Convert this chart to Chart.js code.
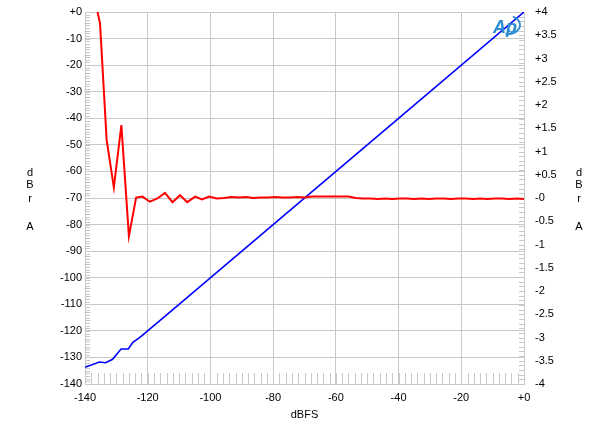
<!DOCTYPE html>
<html>
<head>
<meta charset="utf-8">
<script src="https://cdn.jsdelivr.net/npm/chart.js@4/dist/chart.umd.min.js"></script>
<style>
  html, body { margin: 0; padding: 0; background: #fff; }
  #wrap { width: 600px; height: 431px; }
</style>
</head>
<body>
<div id="wrap"><canvas id="linearityChart"></canvas></div>
<script>
// Data
// Red trace: deviation from ideal (dBr A, right axis) vs input level (dBFS)
const redX = [-137.6, -135.2, -133.1, -130.8, -128.4, -126.0, -123.7, -121.7, -119.3, -116.9,
  -114.5, -112.1, -109.7, -107.4, -104.9, -102.7, -100.4, -98.0, -95.7, -93.3,
  -91.0, -88.6, -86.3, -84.0, -81.6, -79.3, -77.0, -74.6, -72.3, -70.0,
  -67.6, -65.3, -63.0, -60.6, -58.3, -56.0, -53.6, -51.3, -49.0, -46.6,
  -44.3, -42.0, -39.6, -37.3, -35.0, -32.6, -30.3, -28.0, -25.6, -23.3,
  -21.0, -18.6, -16.3, -14.0, -11.6, -9.3, -7.0, -4.6, -2.3, 0];
const redY = [4.5, 3.75, 1.25, 0.23, 1.57, -0.82, 0.01, 0.03, -0.08, -0.01,
  0.11, -0.09, 0.06, -0.09, 0.03, -0.03, 0.03, -0.01, 0.0, 0.02,
  0.01, 0.02, 0.0, 0.01, 0.01, 0.02, 0.01, 0.01, 0.02, 0.01,
  0.03, 0.03, 0.03, 0.03, 0.03, 0.03, 0.0, -0.01, -0.01, -0.02,
  -0.01, -0.02, -0.01, -0.01, -0.02, -0.01, -0.02, -0.01, -0.01, -0.02,
  -0.01, -0.01, -0.02, -0.01, -0.02, -0.01, -0.01, -0.02, -0.01, -0.02];

// Blue trace: output level (dBr A, left axis) vs input level (dBFS)
const blueX = [-140, -135.4, -133.4, -131.2, -128.5, -126.2, -124.8, -122, -110, -80, -40, 0];
const blueY = [-133.7, -131.7, -132.0, -130.7, -126.8, -126.8, -124.4, -122, -110, -80, -40, 0];

// Axis tick settings
const xTicks = { min: -140, max: 0, step: 20, minorStep: 2 };
const yTicks = { min: -140, max: 0, step: 10, minorStep: 1 };
const y2Ticks = { min: -4, max: 4, step: 0.5, minorStep: 0.1 };

const FONT = "'Liberation Sans', Arial, sans-serif";
const GRID = '#c8c8c8';

/**********************************************************/
/*   Minor ticks, side titles and the Ap logo (plugin)    */
/**********************************************************/
const extrasPlugin = {
  id: 'extras',
  beforeDatasetsDraw(chart) {
    const ctx = chart.ctx;
    const area = chart.chartArea;
    const sx = chart.scales.x, sy = chart.scales.y, sy2 = chart.scales.y2;
    ctx.save();
    ctx.strokeStyle = GRID;
    ctx.lineWidth = 1;
    ctx.beginPath();
    // Bottom minor ticks
    for (let v = xTicks.min + xTicks.minorStep; v < xTicks.max; v += xTicks.minorStep) {
      const px = Math.round(sx.getPixelForValue(v)) + 0.5;
      ctx.moveTo(px, area.bottom);
      ctx.lineTo(px, area.bottom - 11);
    }
    // Left minor ticks
    for (let v = yTicks.min; v <= yTicks.max; v += yTicks.minorStep) {
      const py = Math.round(sy.getPixelForValue(v)) + 0.5;
      ctx.moveTo(area.left, py);
      ctx.lineTo(area.left + 5, py);
    }
    // Right minor ticks
    for (let i = 0; i <= 80; i++) {
      const v = y2Ticks.min + i * y2Ticks.minorStep;
      const py = Math.round(sy2.getPixelForValue(v)) + 0.5;
      ctx.moveTo(area.right, py);
      ctx.lineTo(area.right - 5, py);
    }
    ctx.stroke();
    ctx.restore();
  },
  afterDraw(chart) {
    const ctx = chart.ctx;
    ctx.save();
    // Stacked axis titles "dBr A" on both sides
    ctx.fillStyle = '#000';
    ctx.font = '11px ' + FONT;
    ctx.textAlign = 'center';
    ctx.textBaseline = 'alphabetic';
    const letters = [['d', 176], ['B', 188], ['r', 202], ['A', 230]];
    letters.forEach(([ch, y]) => {
      ctx.fillText(ch, 30, y);
      ctx.fillText(ch, 579, y);
    });
    // Ap logo
    ctx.fillStyle = '#2a8bd0';
    ctx.strokeStyle = '#2a8bd0';
    ctx.font = 'italic bold 18px ' + FONT;
    ctx.textAlign = 'left';
    ctx.fillText('Ap', 493, 33);
    ctx.lineWidth = 1.8;
    ctx.beginPath();
    ctx.ellipse(509, 25, 11, 9, 0, -1.2, 1.9);
    ctx.stroke();
    ctx.restore();
  }
};

// Fix the axis boxes so the plot area sits where it does in the reference
function fitVertical(width) {
  return s => {
    s.width = width;
    s.paddingTop = 0;
    s.paddingBottom = 0;
  };
}

/**********************************************************/
/*                      Draw chart                        */
/**********************************************************/
const chart = new Chart(document.getElementById('linearityChart'), {
  type: 'line',
  data: {
    datasets: [
      {
        label: 'Deviation',
        data: redX.map((x, i) => ({ x: x, y: redY[i] })),
        yAxisID: 'y2',
        borderColor: '#ff0000',
        borderWidth: 2,
        pointRadius: 0,
        tension: 0
      },
      {
        label: 'Level',
        data: blueX.map((x, i) => ({ x: x, y: blueY[i] })),
        yAxisID: 'y',
        borderColor: '#0000ff',
        borderWidth: 1.6,
        pointRadius: 0,
        tension: 0
      }
    ]
  },
  options: {
    responsive: true,
    maintainAspectRatio: false,
    animation: false,
    layout: { padding: { top: 12, left: 0, right: 0, bottom: 0 } },
    plugins: { legend: { display: false }, tooltip: { enabled: false } },
    scales: {
      x: {
        type: 'linear',
        min: xTicks.min,
        max: xTicks.max,
        afterFit: s => { s.height = 47; s.paddingLeft = 0; s.paddingRight = 0; },
        grid: { color: GRID, drawTicks: false },
        border: { color: GRID },
        ticks: {
          stepSize: xTicks.step,
          padding: 7,
          color: '#000',
          font: { family: FONT, size: 11 },
          maxRotation: 0,
          callback: v => (v === 0 ? '+0' : String(v))
        },
        title: {
          display: true,
          text: 'dBFS',
          color: '#000',
          font: { family: FONT, size: 11 },
          padding: { top: 0, bottom: 9 }
        }
      },
      y: {
        position: 'left',
        min: yTicks.min,
        max: yTicks.max,
        afterFit: fitVertical(85),
        grid: { color: GRID, drawTicks: false },
        border: { color: GRID },
        ticks: {
          stepSize: yTicks.step,
          padding: 3,
          color: '#000',
          font: { family: FONT, size: 11 },
          callback: v => (v === 0 ? '+0' : String(v))
        }
      },
      y2: {
        position: 'right',
        min: y2Ticks.min,
        max: y2Ticks.max,
        afterFit: fitVertical(76),
        grid: { drawOnChartArea: false, drawTicks: false },
        border: { color: GRID },
        ticks: {
          stepSize: y2Ticks.step,
          padding: 11,
          color: '#000',
          font: { family: FONT, size: 11 },
          callback: v => (v > 0 ? '+' + v : (v === 0 ? '-0' : String(v)))
        }
      }
    }
  },
  plugins: [extrasPlugin]
});
</script>
</body>
</html>
